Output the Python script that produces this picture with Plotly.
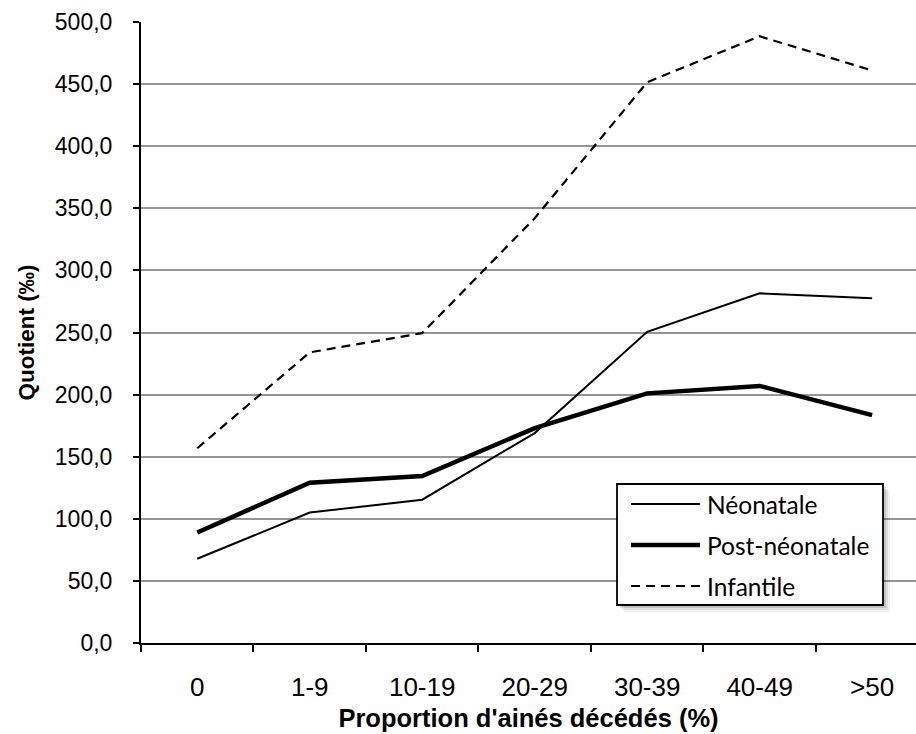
import plotly.graph_objects as go

# Mortality quotients (per mille) by proportion of deceased elder siblings
categories = ["0", "1-9", "10-19", "20-29", "30-39", "40-49", ">50"]
neonatale = [67.8, 105.0, 115.4, 169.0, 250.5, 281.5, 277.5]
post_neonatale = [89.0, 129.0, 134.5, 173.0, 201.0, 207.0, 183.5]
infantile = [156.8, 234.0, 249.5, 342.0, 451.5, 488.5, 461.0]

series_names = ["Néonatale", "Post-néonatale", "Infantile"]
y_ticks = [0, 50, 100, 150, 200, 250, 300, 350, 400, 450, 500]

W_FIG, H_FIG = 916, 734
M_L, M_R, M_T, M_B = 141, 0, 22, 91
PW = W_FIG - M_L - M_R
PH = H_FIG - M_T - M_B

AX_FONT = "Liberation Sans, Arial, sans-serif"
LEG_FONT = "Lato, Carlito, Calibri, sans-serif"

styles = [
    dict(color="black", width=2),
    dict(color="black", width=4.5),
    dict(color="black", width=2.2, dash="9px,6px"),
]

fig = go.Figure()
for name, vals, st in zip(series_names, [neonatale, post_neonatale, infantile], styles):
    fig.add_trace(go.Scatter(x=categories, y=vals, mode="lines", name=name,
                             line=st, showlegend=False))


def px_x(p):
    return (p - M_L) / PW


def px_y(p):
    return (M_T + PH - p) / PH


# Legend box drawn on top of the plot area, with a soft drop shadow
box = dict(x0=617, x1=883, y0=484, y1=605)
shapes = []
for off, a in [(7, 0.05), (5, 0.08), (3, 0.12)]:
    shapes.append(dict(type="rect", xref="paper", yref="paper", layer="above",
                       x0=px_x(box["x0"] + off), x1=px_x(box["x1"] + off),
                       y0=px_y(box["y1"] + off), y1=px_y(box["y0"] + off),
                       line=dict(width=0), fillcolor=f"rgba(0,0,0,{a})"))
shapes.append(dict(type="rect", xref="paper", yref="paper", layer="above",
                   x0=px_x(box["x0"]), x1=px_x(box["x1"]),
                   y0=px_y(box["y1"]), y1=px_y(box["y0"]),
                   line=dict(color="black", width=1.8), fillcolor="white"))

row_y = [504, 545, 586]
annotations = []
for name, st, ry in zip(series_names, styles, row_y):
    shapes.append(dict(type="line", xref="paper", yref="paper", layer="above",
                       x0=px_x(631), x1=px_x(700), y0=px_y(ry), y1=px_y(ry),
                       line=dict(color="black", width=st["width"],
                                 dash=st.get("dash", "solid"))))
    annotations.append(dict(xref="paper", yref="paper", x=px_x(705), y=px_y(ry),
                            text=name, showarrow=False, xanchor="left", yanchor="middle",
                            font=dict(family=LEG_FONT, size=24.5, color="black")))

fig.update_layout(
    width=W_FIG, height=H_FIG,
    margin=dict(l=M_L, r=M_R, t=M_T, b=M_B, pad=0),
    paper_bgcolor="white", plot_bgcolor="white",
    separators=", ",
    shapes=shapes, annotations=annotations,
    showlegend=False,
)

fig.update_xaxes(
    type="category", range=[-0.5, 6.39],
    tickson="boundaries", ticks="outside", ticklen=7, tickwidth=1.5, tickcolor="black",
    showline=True, linecolor="black", linewidth=2,
    showgrid=False, zeroline=False,
    tickfont=dict(family=AX_FONT, size=26, color="black"),
    ticklabelstandoff=20,
    title=dict(text="<b>Proportion d'ainés décédés (%)</b>",
               font=dict(family=AX_FONT, size=25.5, color="black"), standoff=8),
)
fig.update_yaxes(
    range=[0, 500], tickvals=y_ticks, tickformat=".1f",
    ticks="outside", ticklen=6, tickwidth=1.5, tickcolor="black",
    showline=True, linecolor="black", linewidth=2,
    showgrid=True, gridcolor="#959595", gridwidth=1.6, zeroline=False,
    tickfont=dict(family=AX_FONT, size=23, color="black"),
    ticklabelstandoff=16,
    title=dict(text="<b>Quotient (‰)</b>",
               font=dict(family=AX_FONT, size=22.5, color="black"), standoff=14),
)

fig.write_html("out.html")
